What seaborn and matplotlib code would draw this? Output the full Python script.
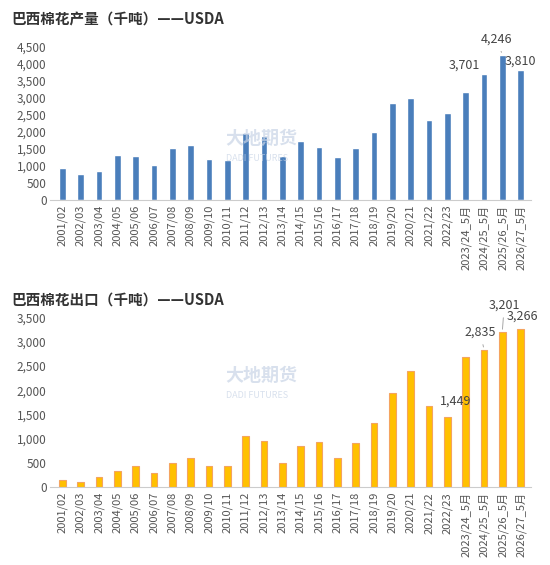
import matplotlib
matplotlib.use("Agg")
import matplotlib.pyplot as plt
import seaborn as sns
import pandas as pd

years = ["2001/02", "2002/03", "2003/04", "2004/05", "2005/06", "2006/07", "2007/08", "2008/09",
         "2009/10", "2010/11", "2011/12", "2012/13", "2013/14", "2014/15", "2015/16", "2016/17",
         "2017/18", "2018/19", "2019/20", "2020/21", "2021/22", "2022/23", "2023/24_5月",
         "2024/25_5月", "2025/26_5月", "2026/27_5月"]
production = [930, 750, 840, 1310, 1290, 1020, 1520, 1600, 1200, 1180, 1950, 1870, 1300, 1720,
              1560, 1270, 1530, 2000, 2830, 2990, 2350, 2550, 3160, 3701, 4246, 3810]
exports = [140, 110, 210, 330, 430, 280, 490, 600, 430, 430, 1050, 950, 490, 850, 940, 600,
           910, 1320, 1950, 2400, 1680, 1449, 2690, 2835, 3201, 3266]

sns.set_style("white")
plt.rcParams['font.family'] = ['Noto Sans CJK SC', 'DejaVu Sans']

fig = plt.figure(figsize=(5.5, 5.65), dpi=100)
ax1 = fig.add_axes([0.09, 0.646, 0.875, 0.272])
ax2 = fig.add_axes([0.09, 0.138, 0.875, 0.30])

df = pd.DataFrame({"year": years, "prod": production, "exp": exports})

def style(ax, ymax, step):
    ax.set_ylim(0, ymax)
    ax.set_yticks(range(0, ymax + 1, step))
    ax.set_yticklabels([f"{v:,}" for v in range(0, ymax + 1, step)], fontsize=8.5, color="#555555")
    ax.tick_params(axis="x", rotation=90, labelsize=8, colors="#555555", length=0)
    ax.tick_params(axis="y", length=0, pad=2)
    ax.set_xlabel("")
    ax.set_ylabel("")
    for s in ["top", "right", "left"]:
        ax.spines[s].set_visible(False)
    ax.spines["bottom"].set_color("#cccccc")
    ax.set_xlim(-0.7, len(years) - 0.45)

sns.barplot(data=df, x="year", y="prod", color="#4a7ebb", width=0.35, saturation=1, ax=ax1)
style(ax1, 4500, 500)
sns.barplot(data=df, x="year", y="exp", color="#ffc000", edgecolor="#f4a460", linewidth=0.8,
            width=0.35, saturation=1, ax=ax2)
style(ax2, 3500, 500)

lab = dict(fontsize=9, color="#444444")
ax1.text(23 - 0.2, production[23] + 60, f"{production[23]:,}", ha="right", va="bottom", **lab)
ax1.annotate(f"{production[24]:,}", (24, production[24]), (23.7, production[24] + 280),
             ha="center", va="bottom", arrowprops=dict(arrowstyle="-", color="#999999", lw=0.6), **lab)
ax1.text(25, production[25] + 80, f"{production[25]:,}", ha="center", va="bottom", **lab)
ax2.text(21 - 0.4, exports[21] + 200, f"{exports[21]:,}", ha="left", va="bottom", **lab)
ax2.annotate(f"{exports[23]:,}", (23, exports[23]), (22.8, exports[23] + 230),
             ha="center", va="bottom", arrowprops=dict(arrowstyle="-", color="#999999", lw=0.6), **lab)
ax2.annotate(f"{exports[24]:,}", (24, exports[24]), (24.1, exports[24] + 420),
             ha="center", va="bottom", arrowprops=dict(arrowstyle="-", color="#999999", lw=0.6), **lab)
ax2.text(25 + 0.1, exports[25] + 120, f"{exports[25]:,}", ha="center", va="bottom", **lab)

fig.text(0.02, 0.965, "巴西棉花产量（千吨）——USDA", fontsize=10.5, fontweight="bold", color="#333333", va="center")
fig.text(0.02, 0.47, "巴西棉花出口（千吨）——USDA", fontsize=10.5, fontweight="bold", color="#333333", va="center")

for y in (0.745, 0.325):
    fig.text(0.41, y, "大地期货", fontsize=13, fontweight="bold", color="#c8d4e6", alpha=0.7)
    fig.text(0.41, y - 0.03, "DADI FUTURES", fontsize=6.5, color="#c8d4e6", alpha=0.7)

fig.savefig("out.png", dpi=100)
